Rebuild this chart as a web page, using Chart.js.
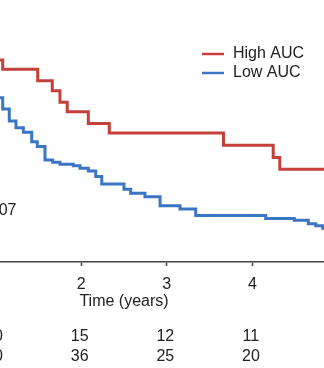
<!DOCTYPE html>
<html>
<head>
<meta charset="utf-8">
<script src="https://cdn.jsdelivr.net/npm/chart.js@4"></script>
<style>
  html, body { margin: 0; padding: 0; background: #fff; overflow: hidden; width: 324px; height: 368px; }
  #km { position: absolute; left: -90px; top: 0; }
</style>
</head>
<body>
<canvas id="km" width="428" height="368"></canvas>
<script>
// Kaplan-Meier curves (time in years, survival probability)
var highTimes = [0, 0.5, 0.95, 1.083, 1.492, 1.662, 1.752, 1.837, 2.083, 2.328, 3.662, 4.243, 4.320, 4.95];
var highSurv  = [1.0, 0.9, 0.802, 0.765, 0.719, 0.680, 0.634, 0.596, 0.550, 0.512, 0.463, 0.415, 0.368, 0.368];

var lowTimes = [0, 0.3, 0.6, 0.9, 1.083, 1.160, 1.238, 1.324, 1.422, 1.487, 1.577, 1.667, 1.752, 1.908, 1.986,
                2.083, 2.170, 2.240, 2.500, 2.578, 2.745, 2.921, 3.154, 3.338, 4.155, 4.490, 4.653, 4.740, 4.821, 4.95];
var lowSurv  = [1.0, 0.88, 0.77, 0.652, 0.607, 0.560, 0.533, 0.515, 0.477, 0.458, 0.405, 0.396, 0.388, 0.382, 0.372,
                0.361, 0.339, 0.310, 0.289, 0.273, 0.259, 0.223, 0.210, 0.185, 0.173, 0.166, 0.152, 0.144, 0.134, 0.134];

// numbers at risk
var riskTimes = [0, 1, 2, 3, 4, 5];
var riskHigh  = [26, 20, 15, 12, 11, 10];
var riskLow   = [80, 50, 36, 25, 20, 16];

var seriesLabels = ['High AUC', 'Low AUC'];
var seriesColors = ['#C4403A', '#3A76C4'];
var pValueText = 'p = 0.007';

function toPoints(ts, ss) {
  return ts.map(function (t, i) { return { x: t, y: ss[i] }; });
}

Chart.defaults.font.family = '"Liberation Sans", Arial, sans-serif';
Chart.defaults.color = '#222';

var extras = {
  id: 'extras',
  afterDraw: function (chart) {
    var ctx = chart.ctx;
    var xs = chart.scales.x;
    ctx.save();
    ctx.font = '16px "Liberation Sans", Arial, sans-serif';
    ctx.fillStyle = '#222';
    ctx.textBaseline = 'middle';

    // number at risk table
    ctx.textAlign = 'center';
    riskTimes.forEach(function (t, i) {
      var px = xs.getPixelForValue(t) - 1.5;
      ctx.fillText(String(riskHigh[i]), px, 337);
      ctx.fillText(String(riskLow[i]), px, 357);
    });

    // p value
    ctx.textAlign = 'right';
    ctx.fillText(pValueText, 106.5, 211);

    // legend
    ctx.textAlign = 'left';
    seriesLabels.forEach(function (lab, i) {
      var y = 54 + i * 19;
      ctx.strokeStyle = seriesColors[i];
      ctx.lineWidth = 2.5;
      ctx.beginPath();
      ctx.moveTo(292, y);
      ctx.lineTo(314, y);
      ctx.stroke();
      ctx.fillText(lab, 323, y);
    });
    ctx.restore();
  }
};

new Chart(document.getElementById('km'), {
  type: 'line',
  data: {
    datasets: [{
      label: seriesLabels[0],
      data: toPoints(highTimes, highSurv),
      borderColor: seriesColors[0],
      borderWidth: 3,
      stepped: 'before',
      pointRadius: 0,
      fill: false
    }, {
      label: seriesLabels[1],
      data: toPoints(lowTimes, lowSurv),
      borderColor: seriesColors[1],
      borderWidth: 3,
      stepped: 'before',
      pointRadius: 0,
      fill: false
    }]
  },
  options: {
    responsive: false,
    animation: false,
    devicePixelRatio: 1,
    layout: { padding: { top: 10, left: 0, right: 0, bottom: 0 } },
    plugins: { legend: { display: false }, tooltip: { enabled: false } },
    scales: {
      x: {
        type: 'linear',
        min: 0,
        max: 5,
        ticks: { stepSize: 1, font: { size: 16 }, color: '#222', padding: 9 },
        grid: { drawOnChartArea: false, tickLength: 4, color: '#444', tickWidth: 1.5 },
        border: { color: '#444', width: 1.5 },
        title: { display: true, text: 'Time (years)', font: { size: 16 }, color: '#222', padding: { top: 0, bottom: 57 } },
        afterFit: function (scale) {
          scale.height = 106;
          scale.paddingLeft = 0;
          scale.paddingRight = 0;
        }
      },
      y: {
        display: false,
        min: 0,
        max: 1
      }
    }
  },
  plugins: [extras]
});
</script>
</body>
</html>
